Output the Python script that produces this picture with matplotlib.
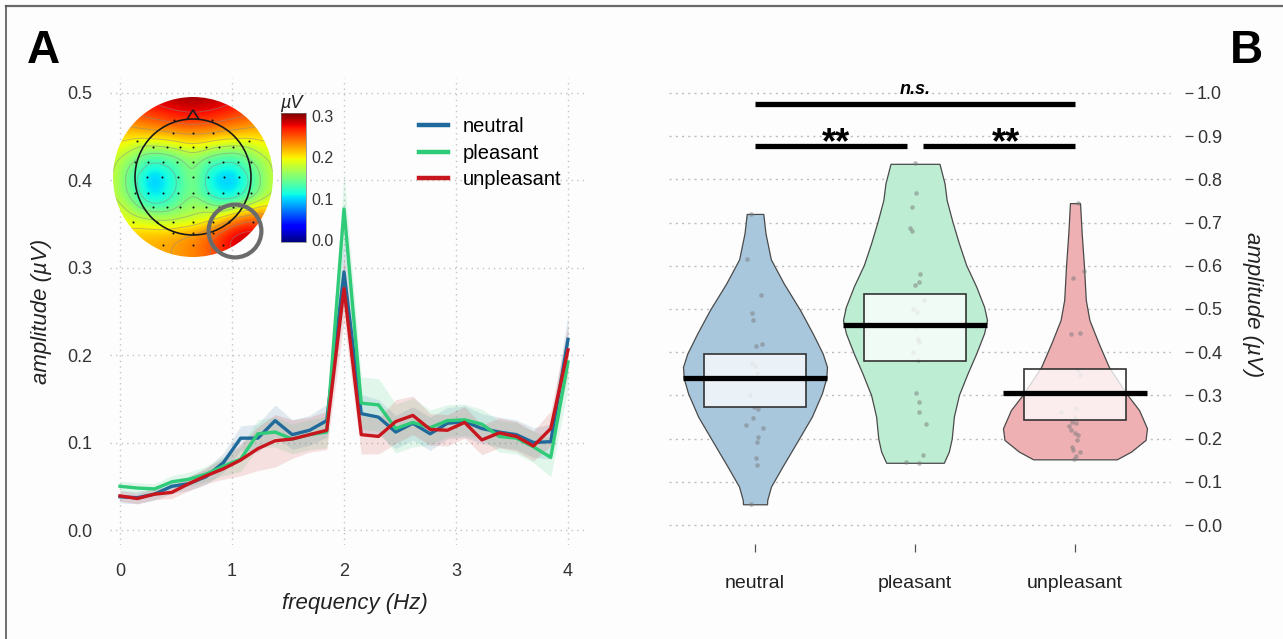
import numpy as np
import matplotlib
matplotlib.use("Agg")
import matplotlib.pyplot as plt
import matplotlib.tri as mtri
from matplotlib.patches import Circle, Polygon, Rectangle
from matplotlib.lines import Line2D
from matplotlib.colors import Normalize
from matplotlib.cm import ScalarMappable
from matplotlib.ticker import FormatStrFormatter

plt.rcParams['font.family'] = ['Liberation Sans', 'DejaVu Sans']

# ------------------------------------------------------------------ data A
freq = [0.0, 0.154, 0.308, 0.462, 0.615, 0.769, 0.923, 1.077, 1.231, 1.385,
        1.538, 1.692, 1.846, 2.0, 2.154, 2.308, 2.462, 2.615, 2.769, 2.923,
        3.077, 3.231, 3.385, 3.538, 3.692, 3.846, 4.0]
amp_neutral = [0.038, 0.037, 0.041, 0.050, 0.053, 0.061, 0.077, 0.105, 0.105, 0.125,
               0.109, 0.114, 0.125, 0.295, 0.133, 0.129, 0.112, 0.122, 0.110, 0.122,
               0.124, 0.116, 0.112, 0.109, 0.100, 0.101, 0.218]
amp_pleasant = [0.050, 0.048, 0.047, 0.055, 0.058, 0.064, 0.073, 0.081, 0.110, 0.112,
                0.104, 0.109, 0.112, 0.367, 0.145, 0.143, 0.116, 0.123, 0.117, 0.125,
                0.126, 0.121, 0.107, 0.105, 0.095, 0.083, 0.192]
amp_unpleasant = [0.039, 0.036, 0.041, 0.043, 0.053, 0.062, 0.070, 0.080, 0.093, 0.102,
                  0.104, 0.109, 0.114, 0.276, 0.109, 0.107, 0.124, 0.131, 0.115, 0.114,
                  0.123, 0.103, 0.111, 0.107, 0.096, 0.116, 0.206]
se_neutral = [0.007, 0.007, 0.007, 0.008, 0.008, 0.009, 0.011, 0.014, 0.016, 0.018,
              0.017, 0.017, 0.019, 0.040, 0.022, 0.020, 0.019, 0.019, 0.019, 0.018,
              0.018, 0.017, 0.017, 0.017, 0.017, 0.020, 0.028]
se_pleasant = [0.006, 0.006, 0.006, 0.007, 0.008, 0.009, 0.011, 0.014, 0.016, 0.017,
               0.017, 0.017, 0.018, 0.040, 0.030, 0.030, 0.028, 0.028, 0.020, 0.018,
               0.018, 0.017, 0.018, 0.018, 0.018, 0.022, 0.030]
se_unpleasant = [0.006, 0.006, 0.006, 0.007, 0.008, 0.009, 0.012, 0.018, 0.025, 0.030,
                 0.022, 0.020, 0.022, 0.038, 0.022, 0.020, 0.025, 0.022, 0.018, 0.018,
                 0.018, 0.017, 0.017, 0.017, 0.017, 0.020, 0.028]
conditions = ['neutral', 'pleasant', 'unpleasant']
line_colors = ['#1f6a9a', '#2fcb78', '#c8161e']

# topography (µV) on a coarse 9 x 9 grid over the scalp disc, rows top -> bottom
topo_x = [-1.0, -0.75, -0.5, -0.25, 0.0, 0.25, 0.5, 0.75, 1.0]
topo_y = [1.0, 0.75, 0.5, 0.25, 0.0, -0.25, -0.5, -0.75, -1.0]
topo_vals = [
    [0.27, 0.275, 0.285, 0.295, 0.30, 0.295, 0.285, 0.275, 0.27],
    [0.24, 0.245, 0.255, 0.265, 0.27, 0.265, 0.255, 0.245, 0.24],
    [0.205, 0.205, 0.21, 0.215, 0.22, 0.215, 0.21, 0.205, 0.205],
    [0.185, 0.155, 0.13, 0.14, 0.165, 0.14, 0.13, 0.155, 0.185],
    [0.18, 0.13, 0.085, 0.115, 0.16, 0.10, 0.088, 0.13, 0.18],
    [0.18, 0.14, 0.098, 0.122, 0.155, 0.115, 0.105, 0.14, 0.18],
    [0.195, 0.18, 0.168, 0.165, 0.172, 0.19, 0.225, 0.245, 0.225],
    [0.215, 0.215, 0.22, 0.225, 0.235, 0.255, 0.285, 0.295, 0.27],
    [0.215, 0.215, 0.22, 0.225, 0.235, 0.25, 0.275, 0.285, 0.27],
]
electrode_rows = [
    (0.71, [-0.24, 0.24]),
    (0.55, [-0.25, 0.0, 0.25]),
    (0.45, [-0.70, 0.70]),
    (0.38, [-0.50, -0.32, -0.16, 0.0, 0.16, 0.32, 0.50]),
    (0.19, [-0.72, -0.56, -0.375, -0.20, 0.0, 0.20, 0.375, 0.56, 0.72]),
    (0.00, [-0.57, -0.385, -0.19, 0.0, 0.19, 0.385, 0.57]),
    (-0.20, [-0.72, -0.56, -0.375, -0.19, 0.0, 0.19, 0.375, 0.56, 0.72]),
    (-0.38, [-0.50, -0.33, -0.16, 0.0, 0.16, 0.33, 0.50]),
    (-0.56, [-0.75, -0.45, -0.25, 0.0, 0.25, 0.45, 0.75]),
    (-0.70, [-0.25, 0.0, 0.25]),
    (-0.85, [-0.38, 0.0, 0.38]),
]

# ------------------------------------------------------------------ data B
categories = ['neutral', 'pleasant', 'unpleasant']
cat_pos = [1, 2, 3]
means = [0.340, 0.463, 0.305]
box_low = [0.274, 0.380, 0.243]
box_high = [0.395, 0.535, 0.361]
violin_colors = ['#a9c7dc', '#bdedd3', '#eeb0b3']

dens_y_neutral = [0.048, 0.058, 0.089, 0.135, 0.197, 0.251, 0.305, 0.340, 0.366,
                  0.397, 0.444, 0.498, 0.559, 0.615, 0.675, 0.720]
dens_w_neutral = [0.167, 0.170, 0.222, 0.38, 0.60, 0.79, 0.93, 0.99, 1.0,
                  0.94, 0.80, 0.625, 0.40, 0.22, 0.146, 0.115]
dens_y_pleasant = [0.144, 0.170, 0.200, 0.251, 0.301, 0.351, 0.397, 0.444, 0.4745,
                   0.505, 0.552, 0.602, 0.652, 0.702, 0.752, 0.791, 0.836]
dens_w_pleasant = [0.40, 0.47, 0.51, 0.54, 0.61, 0.73, 0.85, 0.96, 1.0,
                   0.96, 0.85, 0.71, 0.61, 0.52, 0.44, 0.41, 0.34]
dens_y_unpleasant = [0.152, 0.170, 0.197, 0.224, 0.266, 0.305, 0.366, 0.420,
                     0.4745, 0.521, 0.598, 0.675, 0.745]
dens_w_unpleasant = [0.58, 0.78, 0.98, 1.0, 0.89, 0.71, 0.47, 0.33,
                     0.20, 0.15, 0.125, 0.093, 0.07]

pts_neutral = [0.720, 0.615, 0.532, 0.491, 0.475, 0.420, 0.414, 0.375, 0.368, 0.351, 0.340,
               0.300, 0.273, 0.268, 0.247, 0.231, 0.224, 0.204, 0.193, 0.155, 0.139, 0.049]
jit_neutral = [-0.027, -0.052, 0.035, -0.021, -0.010, 0.042, 0.006, -0.021, 0.0, 0.010, 0.030,
               -0.030, -0.006, 0.021, -0.015, -0.058, 0.052, 0.021, 0.015, 0.006, 0.015, -0.027]
pts_pleasant = [0.837, 0.769, 0.737, 0.687, 0.681, 0.581, 0.563, 0.556, 0.521, 0.500, 0.494,
                0.460, 0.430, 0.424, 0.400, 0.382, 0.305, 0.285, 0.262, 0.234, 0.162, 0.145, 0.143]
jit_pleasant = [0.0, 0.008, -0.020, -0.034, -0.018, 0.032, 0.028, 0.0, 0.059, -0.014, 0.011,
                0.0, 0.018, 0.028, -0.014, 0.020, 0.007, 0.024, 0.028, 0.070, 0.049, -0.055, 0.028]
pts_unpleasant = [0.746, 0.589, 0.571, 0.445, 0.442, 0.359, 0.347, 0.270, 0.262, 0.250, 0.239,
                  0.235, 0.230, 0.220, 0.212, 0.208, 0.197, 0.180, 0.174, 0.170, 0.160, 0.152]
jit_unpleasant = [0.020, 0.054, -0.013, 0.033, -0.023, 0.020, 0.033, 0.008, -0.089, 0.0, -0.018,
                  0.008, -0.040, -0.023, 0.003, 0.020, 0.013, -0.018, -0.013, 0.033, 0.008, -0.005]

# ------------------------------------------------------------------ figure
W, H = 1283, 639
fig = plt.figure(figsize=(W / 100, H / 100), dpi=100)
fig.patch.set_facecolor('#fcfdfc')


def px(x0, y0, x1, y1):
    return [x0 / W, 1 - y1 / H, (x1 - x0) / W, (y1 - y0) / H]


# frame lines
fig.add_artist(Line2D([6 / W, 1.0], [1 - 6 / H, 1 - 6 / H], color='#6a6a6a', lw=1.6))
fig.add_artist(Line2D([6 / W, 6 / W], [0.0, 1 - 6 / H], color='#555555', lw=1.2))

# ------------------------------------------------------------------ panel A
axA = fig.add_axes(px(110, 78, 588, 545))
axA.set_facecolor('none')
for s in axA.spines.values():
    s.set_visible(False)
axA.set_xlim(-0.0893, 4.1786)
axA.set_ylim(-0.0171, 0.5166)
axA.set_xticks([0, 1, 2, 3, 4])
axA.set_yticks([0.0, 0.1, 0.2, 0.3, 0.4, 0.5])
axA.yaxis.set_major_formatter(FormatStrFormatter('%.1f'))
axA.tick_params(axis='both', length=0, labelsize=13, labelcolor='#333333')
axA.tick_params(axis='y', pad=13)
axA.tick_params(axis='x', pad=13)
axA.grid(True, color='#c4c4c4', linestyle=(0, (1, 3)), lw=1.0)
axA.set_axisbelow(True)

series = [amp_neutral, amp_pleasant, amp_unpleasant]
ses = [se_neutral, se_pleasant, se_unpleasant]
f_arr = np.array(freq)
for vals, se, col in zip(series, ses, line_colors):
    v = np.array(vals)
    e = np.array(se)
    axA.fill_between(f_arr, v - e, v + e, color=col, alpha=0.13, lw=0, zorder=2)
for vals, col in zip(series, line_colors):
    axA.plot(f_arr, vals, color=col, lw=2.4, zorder=3)

handles = [Line2D([], [], color=c, lw=3.2) for c in line_colors]
axA.legend(handles, conditions, loc='upper left', bbox_to_anchor=(419 / W, 1 - 117 / H),
           bbox_transform=fig.transFigure, frameon=False, fontsize=14.5,
           handlelength=1.45, handletextpad=0.7, labelspacing=0.38,
           borderpad=0, borderaxespad=0)

fig.text(27 / W, 1 - 63 / H, 'A', fontsize=33, fontweight='bold', ha='left', va='baseline')
fig.text(42 / W, 1 - 311 / H, 'amplitude (µV)', rotation=90, style='italic',
         fontsize=16, ha='center', va='center', color='#222222')
fig.text(355 / W, 1 - 603 / H, 'frequency (Hz)', style='italic',
         fontsize=16, ha='center', va='center', color='#222222')

# ---- topography inset
norm = Normalize(vmin=-0.005, vmax=0.307)
axT = fig.add_axes(px(113, 97, 273, 257))
axT.set_xlim(-1, 1)
axT.set_ylim(-1, 1)
axT.axis('off')
GX, GY = np.meshgrid(np.array(topo_x), np.array(topo_y))
tri = mtri.Triangulation(GX.ravel(), GY.ravel())
interp = mtri.LinearTriInterpolator(tri, np.array(topo_vals).ravel())
fx = np.linspace(-1, 1, 241)
FX, FY = np.meshgrid(fx, fx)
FZ = np.ma.filled(interp(FX, FY), np.nan)
# smooth the linear surface (separable gaussian, edge padded) for a topomap look
kx = np.arange(-30, 31)
kern = np.exp(-0.5 * (kx / 10.0) ** 2)
kern /= kern.sum()
pad = np.pad(FZ, 30, mode='edge')
pad = np.apply_along_axis(lambda r: np.convolve(r, kern, mode='same'), 1, pad)
pad = np.apply_along_axis(lambda r: np.convolve(r, kern, mode='same'), 0, pad)
FZ = pad[30:-30, 30:-30]
disc = Circle((0, 0), 1.0, transform=axT.transData, facecolor='none', edgecolor='none')
axT.add_patch(disc)
im = axT.imshow(FZ, extent=(-1, 1, -1, 1), origin='lower', cmap='jet', norm=norm,
                interpolation='bilinear', zorder=1)
im.set_clip_path(disc)
cs = axT.contour(FX, FY, FZ, levels=[0.125, 0.15, 0.175, 0.20, 0.225, 0.25, 0.275],
                 colors='#8a8a8a', linewidths=0.7, alpha=0.5, zorder=2)
cs.set_clip_path(disc)
axT.add_patch(Circle((0, 0), 0.725, fill=False, edgecolor='#1a1a1a', lw=1.2, zorder=3))
axT.add_patch(Polygon([[-0.075, 0.72], [0.0, 0.838], [0.075, 0.72]], closed=False,
                      fill=False, edgecolor='#1a1a1a', lw=1.2, zorder=3))
ex, ey = [], []
for yy, xs in electrode_rows:
    for xx in xs:
        ex.append(xx)
        ey.append(yy)
axT.scatter(ex, ey, s=2.2, color='#111111', lw=0, zorder=4)
axT.add_patch(Circle((0.525, -0.675), 0.33, fill=False, edgecolor='#6b6b6b', lw=3.0,
                     zorder=5, clip_on=False))

cax = fig.add_axes(px(281, 113, 306, 242))
cb = fig.colorbar(ScalarMappable(norm=norm, cmap='jet'), cax=cax)
cb.set_ticks([0.0, 0.1, 0.2, 0.3])
cb.ax.yaxis.set_major_formatter(FormatStrFormatter('%.1f'))
cb.ax.tick_params(length=0, pad=4, labelsize=11.5, labelcolor='#333333')
cb.outline.set_linewidth(0.5)
cb.outline.set_edgecolor('#777777')
fig.text(291 / W, 1 - 103 / H, 'µV', style='italic', fontsize=13, ha='center',
         va='center', color='#222222')

# ------------------------------------------------------------------ panel B
axB = fig.add_axes(px(669, 80, 1171, 541))
axB.set_facecolor('none')
for s in axB.spines.values():
    s.set_visible(False)
axB.spines['right'].set_position(('outward', 10))
axB.spines['bottom'].set_position(('outward', 2))
axB.set_xlim(0.4625, 3.6)
axB.set_ylim(-0.037, 1.030)
axB.yaxis.tick_right()
axB.set_yticks([0.0, 0.1, 0.2, 0.3, 0.4, 0.5, 0.6, 0.7, 0.8, 0.9, 1.0])
axB.yaxis.set_major_formatter(FormatStrFormatter('%.1f'))
axB.tick_params(axis='y', length=5.8, width=0.9, color='#444444', pad=3,
                labelsize=13, labelcolor='#333333')
axB.set_xticks(cat_pos)
axB.set_xticklabels(categories)
axB.tick_params(axis='x', length=5.8, width=0.9, color='#555555', pad=17,
                labelsize=14, labelcolor='#222222')
axB.yaxis.grid(True, color='#bdbdbd', linestyle=(0, (1.5, 3)), lw=1.0)
axB.set_axisbelow(True)

dens_y = [dens_y_neutral, dens_y_pleasant, dens_y_unpleasant]
dens_w = [dens_w_neutral, dens_w_pleasant, dens_w_unpleasant]
pts = [pts_neutral, pts_pleasant, pts_unpleasant]
jits = [jit_neutral, jit_pleasant, jit_unpleasant]
for i, c in enumerate(cat_pos):
    yv = np.array(dens_y[i])
    hw = 0.45 * np.array(dens_w[i])
    axB.fill_betweenx(yv, c - hw, c + hw, facecolor=violin_colors[i], edgecolor='#4a4a4a',
                      lw=0.9, zorder=2)
    axB.scatter(c + np.array(jits[i]), pts[i], s=11, color='#7a7a7a', alpha=0.5, lw=0, zorder=3)
    axB.add_patch(Rectangle((c - 0.317, box_low[i]), 0.634, box_high[i] - box_low[i],
                            facecolor=(1, 1, 1, 0.78), edgecolor='#333333', lw=1.2, zorder=4))
    axB.plot([c - 0.45, c + 0.45], [means[i], means[i]], color='black', lw=3.8,
             solid_capstyle='butt', zorder=5)

# significance bars
axB.plot([1.0, 3.0], [0.975, 0.975], color='black', lw=3.8, solid_capstyle='butt', zorder=5)
axB.plot([1.0, 1.95], [0.877, 0.877], color='black', lw=3.8, solid_capstyle='butt', zorder=5)
axB.plot([2.05, 3.0], [0.877, 0.877], color='black', lw=3.8, solid_capstyle='butt', zorder=5)
axB.text(2.0, 0.998, 'n.s.', ha='center', va='baseline', fontsize=13, fontweight='bold',
         style='italic')
axB.text(1.506, 0.86, '**', ha='center', va='baseline', fontsize=26, fontweight='bold')
axB.text(2.57, 0.86, '**', ha='center', va='baseline', fontsize=26, fontweight='bold')

fig.text(1263 / W, 1 - 63 / H, 'B', fontsize=33, fontweight='bold', ha='right', va='baseline')
fig.text(1252 / W, 1 - 305 / H, 'amplitude (µV)', rotation=270, style='italic',
         fontsize=16, ha='center', va='center', color='#222222')

fig.savefig('out.png', dpi=100, facecolor=fig.get_facecolor())
